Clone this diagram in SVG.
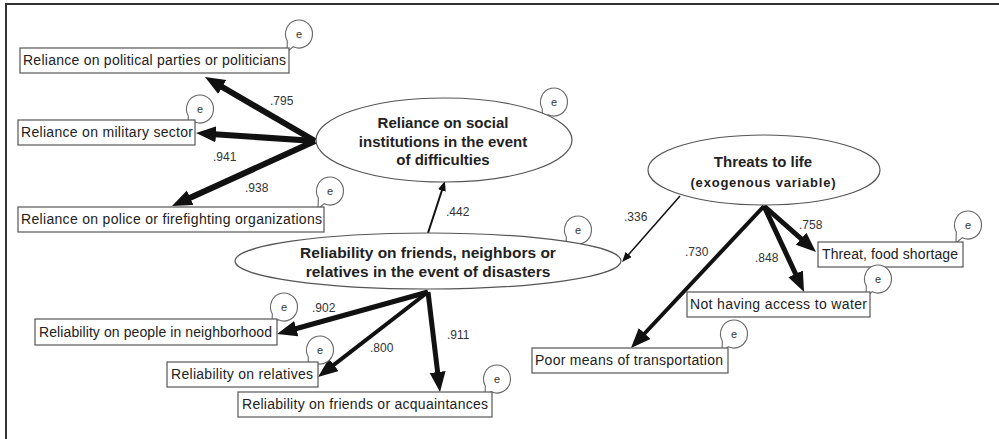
<svg xmlns="http://www.w3.org/2000/svg" width="999" height="439" viewBox="0 0 999 439">
<style>
.box{fill:#fff;stroke:#555;stroke-width:1.2}
.ell{fill:#fff;stroke:#555;stroke-width:1.2}
.bub{fill:#fff;stroke:#666;stroke-width:1.1}
.bt{font-family:"Liberation Sans",Arial,sans-serif;font-size:14px;fill:#222}
.et{font-family:"Liberation Sans",Arial,sans-serif;font-weight:bold;fill:#222;text-anchor:middle}
.lb{font-family:"Liberation Sans",Arial,sans-serif;font-size:12px;fill:#333}
.e{font-family:"Liberation Sans",Arial,sans-serif;font-size:11px;fill:#333;text-anchor:middle}
.ar{stroke:#111;fill:none}
</style>
<defs>
<path id="bub" d="M -5.71 12.69 A 13.5 14 0 1 0 -11.69 7 L -12 18 Z"/>
<marker id="hk" markerUnits="userSpaceOnUse" markerWidth="22" markerHeight="18" refX="9" refY="8" orient="auto" viewBox="0 0 22 18">
<path d="M0,0 L20,8 L0,16 Z" fill="#111"/>
</marker>
<marker id="ht" markerUnits="userSpaceOnUse" markerWidth="12" markerHeight="10" refX="4" refY="4" orient="auto" viewBox="0 0 12 10">
<path d="M0,0 L10,4 L0,8 Z" fill="#111"/>
</marker>
</defs>
<rect width="999" height="439" fill="#fff"/>
<path d="M6 439 V4 H999" fill="none" stroke="#333" stroke-width="2"/>

<g id="connectors" class="ar">
<line x1="315" y1="141" x2="214.5" y2="82.5" stroke-width="6" marker-end="url(#hk)"/>
<line x1="315" y1="141" x2="207" y2="133.7" stroke-width="6" marker-end="url(#hk)"/>
<line x1="315" y1="141" x2="182" y2="201.5" stroke-width="6" marker-end="url(#hk)"/>
<line x1="428" y1="233" x2="443.1" y2="186.7" stroke-width="2" marker-end="url(#ht)"/>
<line x1="680" y1="196" x2="626" y2="257.5" stroke-width="1.5" marker-end="url(#ht)"/>
<line x1="764" y1="206" x2="807.8" y2="244.7" stroke-width="5" marker-end="url(#hk)"/>
<line x1="764" y1="206" x2="799.4" y2="282" stroke-width="5" marker-end="url(#hk)"/>
<line x1="764" y1="206" x2="638.5" y2="340" stroke-width="4" marker-end="url(#hk)"/>
<line x1="428" y1="292" x2="287.6" y2="331" stroke-width="5" marker-end="url(#hk)"/>
<line x1="428" y1="292" x2="326.7" y2="370.3" stroke-width="4" marker-end="url(#hk)"/>
<line x1="428" y1="292" x2="438.7" y2="381" stroke-width="5" marker-end="url(#hk)"/>
</g>

<g id="labels">
<text class="lb" x="270" y="105">.795</text>
<text class="lb" x="213" y="161">.941</text>
<text class="lb" x="245" y="192">.938</text>
<text class="lb" x="446" y="216">.442</text>
<text class="lb" x="624" y="221">.336</text>
<text class="lb" x="799" y="229">.758</text>
<text class="lb" x="755" y="262">.848</text>
<text class="lb" x="685" y="256">.730</text>
<text class="lb" x="312" y="312">.902</text>
<text class="lb" x="370" y="352">.800</text>
<text class="lb" x="447" y="339">.911</text>
</g>

<g id="ell-social">
<use href="#bub" class="bub" x="554" y="102"/><text class="e" x="554" y="106">e</text>
<ellipse class="ell" cx="444" cy="140" rx="128" ry="42"/>
<text class="et" font-size="15" x="443" y="128">Reliance on social</text>
<text class="et" font-size="15" x="443" y="147">institutions  in the event</text>
<text class="et" font-size="15" x="443" y="165">of difficulties</text>
</g>

<g id="ell-reliability">
<use href="#bub" class="bub" x="578" y="230"/><text class="e" x="578" y="234">e</text>
<ellipse class="ell" cx="428" cy="261" rx="193" ry="28"/>
<text class="et" font-size="15.5" x="428" y="258">Reliability  on friends, neighbors or</text>
<text class="et" font-size="15.5" x="428" y="277">relatives in the event of disasters</text>
</g>

<g id="ell-threats">
<ellipse class="ell" cx="764" cy="170" rx="116" ry="35"/>
<text class="et" font-size="15" x="763" y="167">Threats to life</text>
<text class="et" font-size="13" x="763" y="187" textLength="145" lengthAdjust="spacing">(exogenous  variable)</text>
</g>

<g id="box-political">
<use href="#bub" class="bub" x="299" y="34"/><text class="e" x="299" y="38">e</text>
<rect class="box" x="20" y="48" width="269" height="25"/>
<text class="bt" x="23" y="65" textLength="263" lengthAdjust="spacing">Reliance on political parties or politicians</text>
</g>
<g id="box-military">
<use href="#bub" class="bub" x="200" y="109"/><text class="e" x="200" y="113">e</text>
<rect class="box" x="18" y="120" width="177" height="25"/>
<text class="bt" x="21" y="137" textLength="172" lengthAdjust="spacing">Reliance on military sector</text>
</g>
<g id="box-police">
<use href="#bub" class="bub" x="330" y="191"/><text class="e" x="330" y="195">e</text>
<rect class="box" x="18" y="207" width="306" height="25"/>
<text class="bt" x="21" y="224" textLength="301" lengthAdjust="spacing">Reliance on police or firefighting organizations</text>
</g>
<g id="box-neighborhood">
<use href="#bub" class="bub" x="284" y="307"/><text class="e" x="284" y="311">e</text>
<rect class="box" x="35" y="319" width="242" height="26"/>
<text class="bt" x="39" y="337" textLength="233" lengthAdjust="spacing">Reliability on people in neighborhood</text>
</g>
<g id="box-relatives">
<use href="#bub" class="bub" x="320" y="350"/><text class="e" x="320" y="354">e</text>
<rect class="box" x="167" y="362" width="151" height="25"/>
<text class="bt" x="171" y="379" textLength="142" lengthAdjust="spacing">Reliability on relatives</text>
</g>
<g id="box-friends">
<use href="#bub" class="bub" x="497" y="379"/><text class="e" x="497" y="383">e</text>
<rect class="box" x="238" y="392" width="254" height="25"/>
<text class="bt" x="242" y="409" textLength="246" lengthAdjust="spacing">Reliability on friends or acquaintances</text>
</g>
<g id="box-food">
<use href="#bub" class="bub" x="968" y="225"/><text class="e" x="968" y="229">e</text>
<rect class="box" x="818" y="242" width="145" height="25"/>
<text class="bt" x="822" y="259" textLength="136" lengthAdjust="spacing">Threat, food shortage</text>
</g>
<g id="box-water">
<use href="#bub" class="bub" x="878" y="279"/><text class="e" x="878" y="283">e</text>
<rect class="box" x="687" y="292" width="183" height="25"/>
<text class="bt" x="690" y="309" textLength="177" lengthAdjust="spacing">Not having access to water</text>
</g>
<g id="box-transport">
<use href="#bub" class="bub" x="734" y="334"/><text class="e" x="734" y="338">e</text>
<rect class="box" x="532" y="348" width="196" height="25"/>
<text class="bt" x="535" y="365" textLength="188" lengthAdjust="spacing">Poor means of transportation</text>
</g>
</svg>
